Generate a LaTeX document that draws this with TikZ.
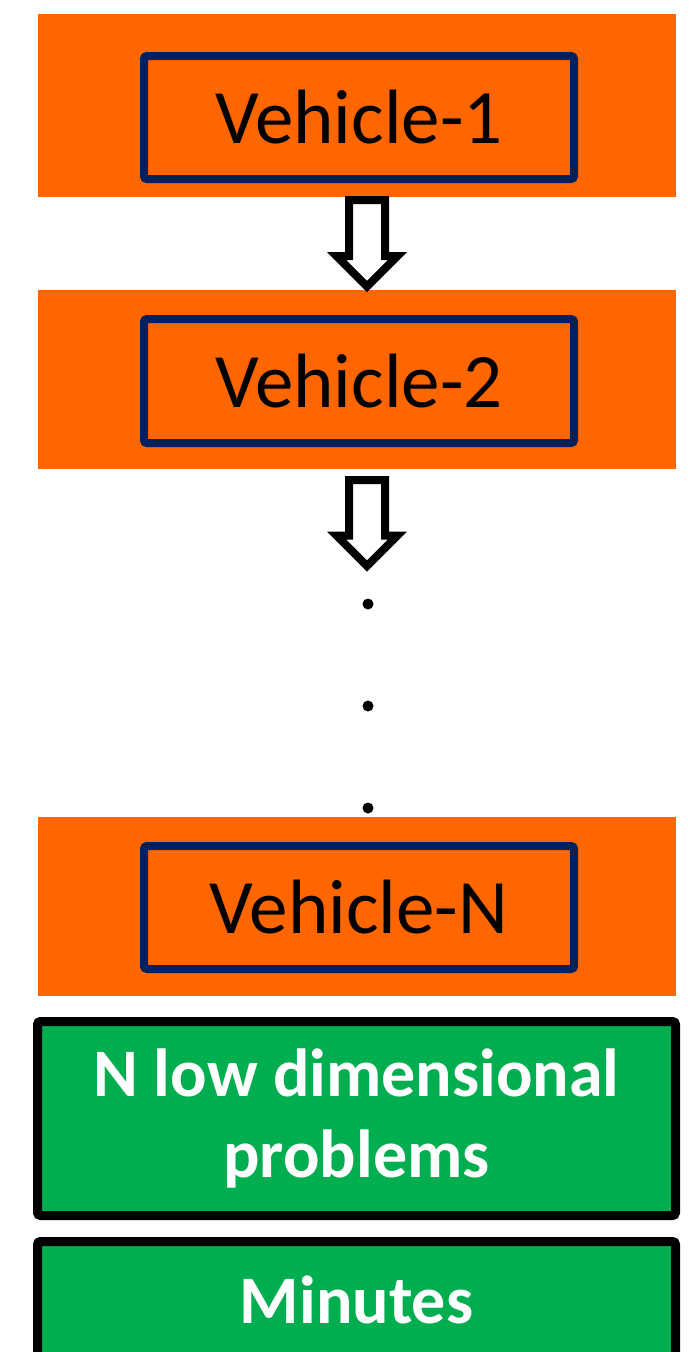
\documentclass[tikz,border=0pt]{standalone}
\usepackage{fontspec}
\setmainfont{Carlito}
\usetikzlibrary{shapes.arrows}
\definecolor{bandorange}{HTML}{FF6600}
\definecolor{boxnavy}{HTML}{002060}
\definecolor{boxgreen}{HTML}{00AD4F}
\tikzset{
  band/.style={fill=bandorange, draw=none, inner sep=0pt, outer sep=0pt, minimum width=638pt},
  vehbox/.style={draw=boxnavy, line width=8pt, rounded corners=3pt, inner sep=0pt, outer sep=0pt,
     minimum width=430pt, font=\fontsize{77}{90}\selectfont, text=black},
  greenbox/.style={draw=black, fill=boxgreen, line width=9pt, rounded corners=3pt, inner sep=0pt, outer sep=0pt,
     minimum width=638pt, align=center, text=white, font=\fontsize{68}{81}\selectfont\bfseries},
  blockarrow/.style={single arrow, draw=black, fill=white, line width=8pt, rotate=-90, anchor=tail,
     inner sep=14pt, outer sep=0pt, single arrow head extend=12.5pt, single arrow tip angle=90, single arrow head indent=0pt},
  dotmark/.style={circle, fill=black, inner sep=0pt, minimum size=11pt}
}
\begin{document}
\begin{tikzpicture}[x=1pt, y=-1pt]
\useasboundingbox (0,0) rectangle (697,1352);
\clip (0,0) rectangle (697,1352);
% orange bands
\node[band, minimum height=183pt] (band1) at (357,105.5) {};
\node[band, minimum height=179pt] (band2) at (357,379.5) {};
\node[band, minimum height=179pt] (band3) at (357,906.5) {};
% vehicle boxes
\node[vehbox, minimum height=123pt] (v1) at (359,117.5) {Vehicle-1};
\node[vehbox, minimum height=124pt] (v2) at (359,381) {Vehicle-2};
\node[vehbox, minimum height=123pt] (vn) at (359,907.5) {Vehicle-N};
% block arrows
\node[blockarrow, minimum height=86.5pt] (a1) at (367,200) {};
\node[blockarrow, minimum height=86pt] (a2) at (367,480) {};
% dots
\node[dotmark] (d1) at (368,604) {};
\node[dotmark] (d2) at (368,706) {};
\node[dotmark] (d3) at (368,808) {};
% green boxes
\node[greenbox, minimum height=194pt] (g1) at (356.5,1118.5) {N low dimensional\\problems};
\node[greenbox, minimum height=117pt] (g2) at (356.5,1300) {Minutes};
\end{tikzpicture}
\end{document}
